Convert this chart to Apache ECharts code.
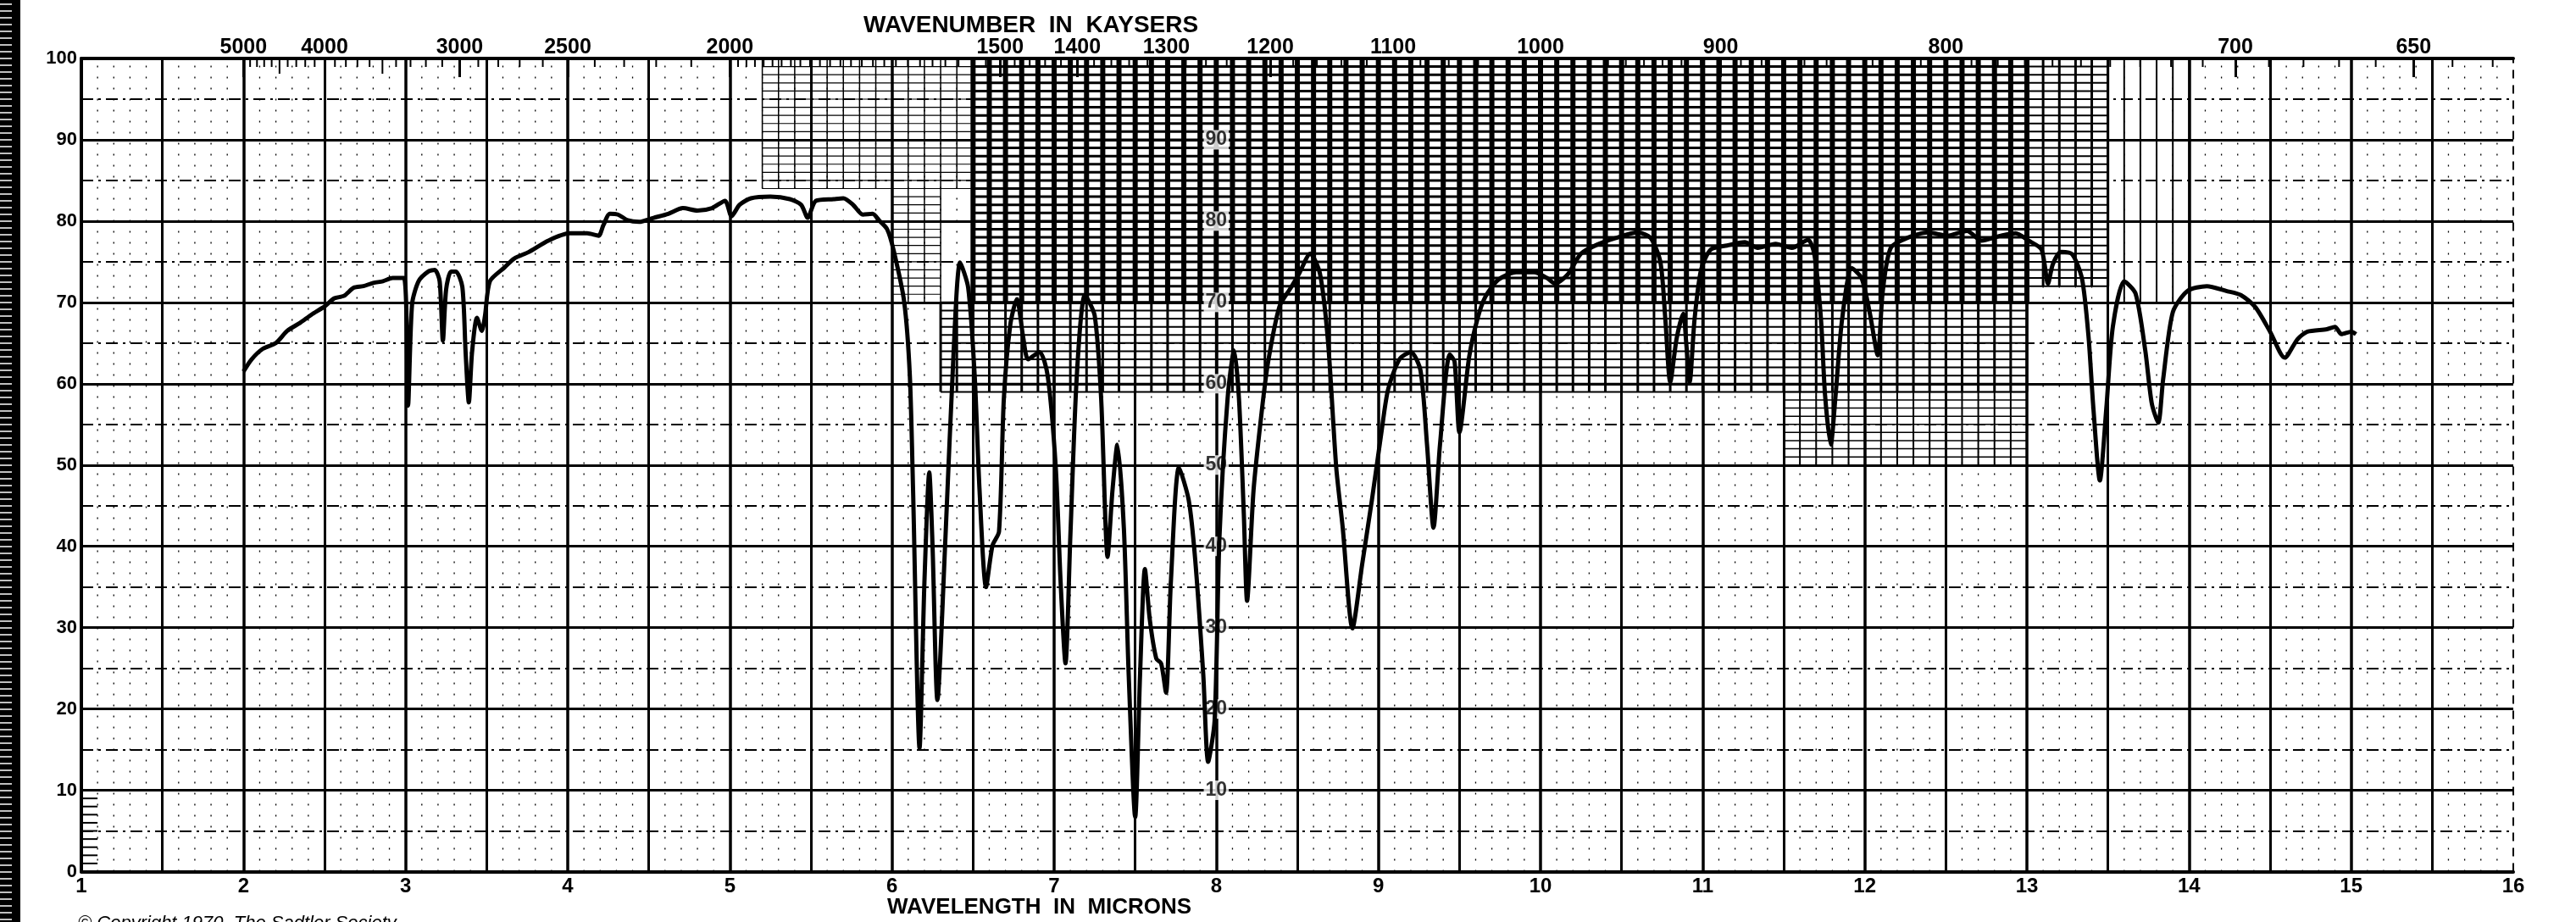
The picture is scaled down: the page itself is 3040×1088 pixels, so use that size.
<!DOCTYPE html>
<html>
<head>
<meta charset="utf-8">
<script src="https://cdn.jsdelivr.net/npm/echarts@6.0.0/dist/echarts.min.js"></script>
<style>
  html, body { margin: 0; padding: 0; background: #fff; }
  #ir { width: 3040px; height: 1088px; }
</style>
</head>
<body>
<div id="ir"></div>
<script>
// IR trace: wavelength in microns -> transmittance in %
var wavelength = [
  2.00, 2.05, 2.12, 2.20, 2.27, 2.35, 2.42, 2.50, 2.56, 2.62, 2.68, 2.74, 2.80, 2.86, 2.92, 2.99,
  3.015, 3.04, 3.08, 3.14, 3.18, 3.21, 3.23, 3.25, 3.28, 3.31, 3.35, 3.37, 3.39, 3.41, 3.44, 3.47,
  3.49, 3.52, 3.61, 3.67, 3.76, 3.88, 4.01, 4.12, 4.19, 4.22, 4.26, 4.31, 4.37, 4.44, 4.53, 4.62,
  4.71, 4.80, 4.89, 4.97, 5.01, 5.06, 5.13, 5.25, 5.37, 5.44, 5.48, 5.53, 5.64, 5.70, 5.76, 5.82,
  5.88, 5.92, 5.97, 6.01, 6.075, 6.11, 6.13, 6.17, 6.20, 6.23, 6.25, 6.28, 6.33, 6.38, 6.42, 6.47,
  6.51, 6.54, 6.58, 6.62, 6.66, 6.69, 6.73, 6.77, 6.81, 6.84, 6.91, 6.96, 7.01, 7.04, 7.07, 7.10,
  7.14, 7.19, 7.25, 7.29, 7.33, 7.36, 7.39, 7.43, 7.46, 7.50, 7.53, 7.56, 7.59, 7.63, 7.66, 7.69,
  7.72, 7.77, 7.83, 7.87, 7.92, 7.95, 7.99, 8.02, 8.07, 8.11, 8.14, 8.17, 8.19, 8.23, 8.28, 8.32,
  8.39, 8.46, 8.51, 8.58, 8.64, 8.69, 8.74, 8.78, 8.84, 8.90, 8.96, 9.02, 9.06, 9.13, 9.20, 9.26,
  9.30, 9.34, 9.38, 9.44, 9.47, 9.50, 9.56, 9.61, 9.66, 9.74, 9.85, 9.96, 10.04, 10.09, 10.17, 10.25,
  10.36, 10.46, 10.60, 10.68, 10.74, 10.77, 10.80, 10.84, 10.88, 10.90, 10.92, 10.95, 10.99, 11.05, 11.15, 11.26,
  11.34, 11.45, 11.55, 11.65, 11.69, 11.73, 11.755, 11.79, 11.82, 11.86, 11.92, 11.98, 12.03, 12.08, 12.11, 12.16,
  12.27, 12.39, 12.51, 12.63, 12.72, 12.84, 12.93, 13.01, 13.09, 13.13, 13.16, 13.21, 13.28, 13.34, 13.38, 13.41,
  13.45, 13.49, 13.53, 13.60, 13.67, 13.73, 13.77, 13.81, 13.84, 13.90, 13.99, 14.11, 14.23, 14.32, 14.41, 14.50,
  14.59, 14.67, 14.73, 14.85, 14.90, 14.94, 15.00, 15.03
];
var transmittance = [
  61.5, 63.0, 64.3, 65.0, 66.5, 67.5, 68.5, 69.5, 70.5, 70.8, 71.8, 72.0, 72.4, 72.6, 73.0, 73.0,
  57.3, 69.8, 72.6, 73.8, 74.0, 72.6, 65.3, 71.6, 73.8, 73.8, 71.9, 63.9, 57.7, 63.9, 68.1, 66.5,
  68.4, 72.6, 74.3, 75.4, 76.2, 77.6, 78.5, 78.5, 78.2, 79.5, 80.9, 80.8, 80.1, 79.9, 80.4, 80.9,
  81.6, 81.3, 81.6, 82.5, 80.6, 82.0, 82.8, 83.0, 82.7, 82.0, 80.4, 82.5, 82.7, 82.8, 82.0, 80.8,
  80.9, 80.1, 79.0, 76.4, 70.1, 61.0, 46.9, 15.2, 35.6, 49.1, 40.1, 21.1, 41.2, 63.9, 74.9, 71.8,
  61.0, 46.9, 35.0, 40.1, 41.8, 58.2, 67.3, 70.4, 65.6, 63.0, 63.9, 61.0, 49.7, 35.6, 25.6, 41.2,
  61.0, 70.9, 68.4, 58.2, 38.7, 46.9, 52.5, 42.3, 24.2, 6.7, 24.2, 37.2, 31.0, 26.2, 25.6, 22.0,
  35.6, 49.7, 45.7, 38.4, 24.2, 13.5, 18.6, 41.2, 58.2, 64.1, 58.2, 44.0, 33.3, 46.9, 56.5, 62.7,
  69.5, 71.8, 73.5, 76.0, 73.5, 65.0, 49.7, 42.3, 29.9, 37.8, 45.7, 54.2, 59.3, 63.0, 63.9, 61.6,
  52.5, 42.3, 52.5, 63.6, 62.7, 54.0, 63.3, 67.9, 70.7, 72.8, 73.7, 73.7, 73.0, 72.3, 73.5, 76.0,
  77.2, 77.9, 78.6, 77.9, 74.9, 67.9, 60.2, 65.6, 68.6, 64.7, 60.2, 67.9, 74.0, 76.5, 77.0, 77.4,
  76.7, 77.2, 76.7, 77.7, 75.8, 67.9, 58.6, 52.5, 58.6, 67.9, 74.2, 73.0, 68.8, 63.5, 71.2, 76.7,
  78.0, 78.6, 78.2, 78.8, 77.6, 78.2, 78.5, 77.6, 76.5, 72.3, 74.7, 76.2, 75.9, 72.9, 65.8, 57.0,
  48.1, 57.0, 67.0, 72.6, 71.1, 64.1, 57.6, 55.2, 60.5, 68.8, 71.4, 72.0, 71.4, 70.9, 69.4, 66.4,
  63.2, 65.5, 66.4, 66.7, 67.0, 66.1, 66.4, 66.1
];

// wavenumber scale printed along the top edge (cm-1, "kaysers")
var topWavenumbers = [5000, 4000, 3000, 2500, 2000, 1500, 1400, 1300, 1200, 1100, 1000, 900, 800, 700, 650];
// the repeated % scale printed on the 8 micron line
var midScale = [10, 20, 30, 40, 50, 60, 70, 80, 90];

// fine chart-paper ruling:
// [lambda from, lambda to, %T from, %T to, vertical width, horizontal width, dotted]
var paperRuling = [
  [1.0, 16.0, 0, 100, 1.3, 0, 1],
  [6.5, 13.0, 70, 100, 6, 3, 0],
  [6.3, 13.0, 59, 70, 3, 2, 0],
  [11.5, 13.0, 50, 59, 2, 1.5, 0],
  [5.2, 6.5, 84, 100, 1.5, 1.2, 0],
  [6.0, 6.3, 70, 84, 1.5, 1.2, 0],
  [13.0, 13.5, 72, 100, 3, 2, 0],
  [13.5, 14.0, 70, 100, 2, 0, 0],
  [1.0, 1.1, 0, 9, 0, 2, 0]
];

var FONT = '"Liberation Sans", Arial, sans-serif';

var topLabelPos = topWavenumbers.map(function (w) { return 10000 / w; });
// short ticks hanging from the top edge, in cm-1
var topMinorTicks = [];
var w;
for (w = 4900; w > 2000; w -= 100) topMinorTicks.push(w);
for (w = 1980; w > 1000; w -= 20) topMinorTicks.push(w);
for (w = 990; w >= 630; w -= 10) topMinorTicks.push(w);

var trace = wavelength.map(function (x, i) { return [x, transmittance[i]]; });

function drawRuling(params, api) {
  var l0 = api.value(0), l1 = api.value(1), t0 = api.value(2), t1 = api.value(3);
  var vw = api.value(4), hw = api.value(5), dotted = api.value(6);
  var dash = dotted ? [2, 11] : null;
  var kids = [];
  var i, a, b;
  if (vw > 0) {
    for (i = Math.round(l0 * 10); i <= Math.round(l1 * 10); i++) {
      if (dotted && i % 5 === 0) continue;
      a = api.coord([i / 10, t0]); b = api.coord([i / 10, t1]);
      kids.push({ type: 'line', shape: { x1: a[0], y1: a[1], x2: b[0], y2: b[1] },
        style: { stroke: '#000', lineWidth: vw, lineDash: dash } });
    }
  }
  if (hw > 0) {
    for (i = t0; i <= t1; i++) {
      a = api.coord([l0, i]); b = api.coord([l1, i]);
      kids.push({ type: 'line', shape: { x1: a[0], y1: a[1], x2: b[0], y2: b[1] },
        style: { stroke: '#000', lineWidth: hw } });
    }
  }
  return { type: 'group', children: kids, silent: true };
}

function drawTopTick(params, api) {
  var wn = api.value(0);
  var p = api.coord([10000 / wn, 100]);
  var len = wn % 500 === 0 ? 18 : 10;
  return { type: 'line', silent: true,
    shape: { x1: p[0], y1: p[1], x2: p[0], y2: p[1] + len },
    style: { stroke: '#000', lineWidth: 2 } };
}

// scanner ruler strip on the far left
var strip = [{ type: 'rect', shape: { x: 0, y: 0, width: 24, height: 1088 }, style: { fill: '#000' } }];
for (var y = 5; y < 1088; y += 8) {
  strip.push({ type: 'line', shape: { x1: 0, y1: y, x2: 14, y2: y }, style: { stroke: '#fff', lineWidth: 1.5 } });
}

var chart = echarts.init(document.getElementById('ir'), null, { width: 3040, height: 1088 });

var option = {
  animation: false,
  backgroundColor: '#fff',
  grid: { left: 96, right: 74, top: 69, bottom: 59.5, outerBoundsMode: 'none' },
  xAxis: [
    {
      type: 'value', min: 1, max: 16, interval: 1, position: 'bottom',
      axisLine: { show: true, onZero: false, lineStyle: { color: '#000', width: 4 } },
      axisTick: { show: false },
      axisLabel: { color: '#000', fontFamily: FONT, fontWeight: 'bold', fontSize: 24, margin: 6,
        showMinLabel: true, showMaxLabel: true },
      splitLine: { show: true, showMaxLine: false, lineStyle: { color: '#000', width: 3.5 } },
      minorTick: { show: false, splitNumber: 2 },
      minorSplitLine: { show: true, lineStyle: { color: '#000', width: 3 } }
    },
    {
      type: 'value', min: 1, max: 16, position: 'top',
      axisLine: { show: true, onZero: false, lineStyle: { color: '#000', width: 4 } },
      axisTick: { show: true, inside: true, length: 22, customValues: topLabelPos,
        lineStyle: { color: '#000', width: 3 } },
      axisLabel: { show: true, customValues: topLabelPos, color: '#000', fontFamily: FONT,
        fontWeight: 'bold', fontSize: 25, margin: 0,
        formatter: function (v) { return String(Math.round(10000 / v)); } },
      splitLine: { show: false }
    }
  ],
  yAxis: {
    type: 'value', min: 0, max: 100, interval: 10,
    axisLine: { show: true, onZero: false, lineStyle: { color: '#000', width: 4 } },
    axisTick: { show: false },
    axisLabel: { color: '#000', fontFamily: FONT, fontWeight: 'bold', fontSize: 22, margin: 5 },
    splitLine: { show: true, lineStyle: { color: '#000', width: 3 } },
    minorTick: { show: false, splitNumber: 2 },
    minorSplitLine: { show: true, lineStyle: { color: '#000', width: 2, type: [14, 6, 3, 6] } }
  },
  graphic: strip.concat([
    { type: 'text', left: 1019, top: 16,
      style: { text: 'WAVENUMBER  IN  KAYSERS', fill: '#000', font: 'bold 28px ' + FONT } },
    { type: 'text', left: 1047, top: 1058,
      style: { text: 'WAVELENGTH  IN  MICRONS', fill: '#000', font: 'bold 26px ' + FONT } },
    { type: 'text', left: 92, top: 1079,
      style: { text: '\u00A9 Copyright 1970  The Sadtler Society', fill: '#000', font: 'italic 22px ' + FONT } }
  ]),
  series: [
    {
      type: 'custom', name: 'ruling', xAxisIndex: 0, z: 1, silent: true,
      renderItem: drawRuling, encode: { x: [0, 1], y: [2, 3] },
      data: paperRuling
    },
    {
      type: 'custom', name: 'top ticks', xAxisIndex: 0, z: 2, silent: true,
      renderItem: drawTopTick, encode: { x: 0 },
      data: topMinorTicks.map(function (v) { return [v]; })
    },
    {
      type: 'scatter', name: 'mid scale', xAxisIndex: 0, z: 3, silent: true,
      symbolSize: 0.1,
      data: midScale.map(function (v) { return [8, v]; }),
      label: { show: true, position: 'inside', color: '#000', fontFamily: FONT, fontWeight: 'bold',
        fontSize: 23, backgroundColor: '#fff', padding: [0, 2],
        formatter: function (p) { return String(p.value[1]); } },
      markLine: { silent: true, symbol: 'none', label: { show: false },
        lineStyle: { color: '#000', width: 2, type: [10, 8] }, data: [{ xAxis: 16 }] }
    },
    {
      type: 'line', name: 'transmittance', xAxisIndex: 0, z: 5,
      data: trace, showSymbol: false, symbol: 'none', smooth: 0.25,
      lineStyle: { color: '#000', width: 5, join: 'round' }
    }
  ]
};

chart.setOption(option);
</script>
</body>
</html>
